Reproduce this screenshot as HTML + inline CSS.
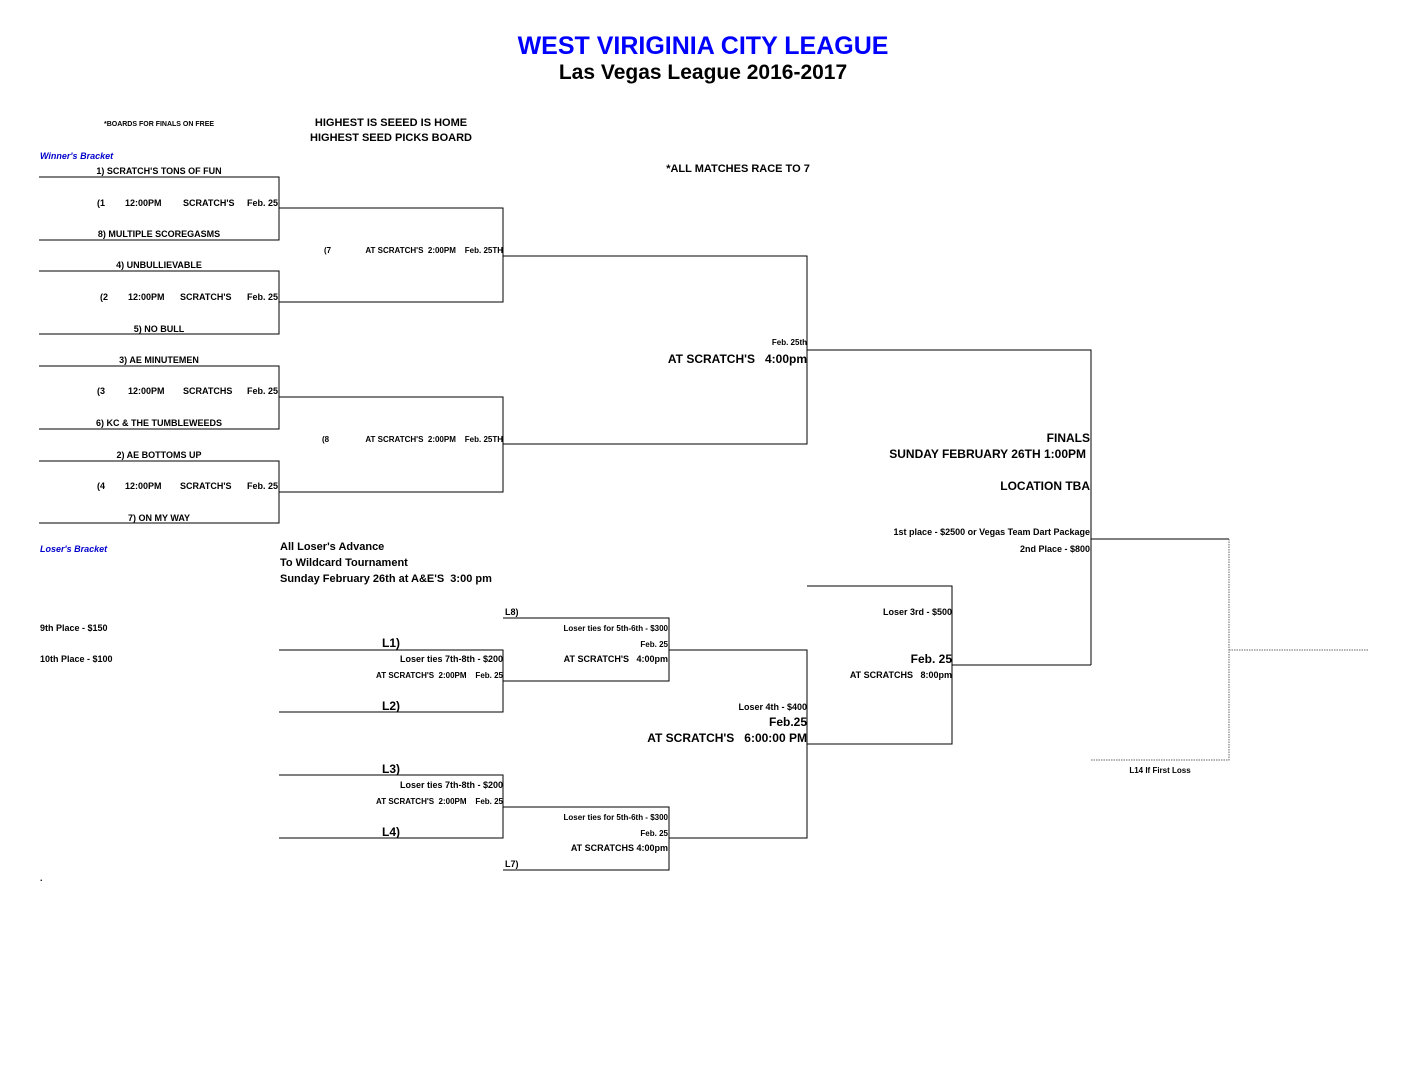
<!DOCTYPE html>
<html><head><meta charset="utf-8">
<style>
html,body{margin:0;padding:0;background:#fff;}
body{width:1408px;height:1088px;position:relative;overflow:hidden;font-family:"Liberation Sans",Arial,sans-serif;font-weight:bold;color:#000;}
.t{position:absolute;white-space:pre;line-height:1;}
.c{transform:translateX(-50%);}
svg{position:absolute;left:0;top:0;}
#w{position:absolute;left:0;top:1px;width:1408px;height:1088px;}
</style></head><body>
<svg width="1408" height="1088">
<g stroke="#000" stroke-width="1.2" fill="none" shape-rendering="crispEdges">
<path d="M39 177H279V240H39M39 271H279V334H39M39 366H279V429H39M39 461H279V523H39"/>
<path d="M279 208H503V302H279M279 397H503V492H279"/>
<path d="M503 256H807V444H503M807 350H1091V665M1091 539H1229"/>
<path d="M279 650H503V712H279M279 775H503V838H279"/>
<path d="M503 618H669V681H503M503 807H669V870H503"/>
<path d="M669 650H807V838H669M807 586H952V744H807M952 665H1091"/>
</g>
<g stroke="#666" stroke-width="1" stroke-dasharray="1.5,1" fill="none" shape-rendering="crispEdges">
<path d="M1229 539V760H1091M1229 650H1368"/>
</g>
</svg>
<div id="w">
<div class="t c" style="left:703px;top:33px;font-size:25px;color:#0000ff;">WEST VIRIGINIA CITY LEAGUE</div>
<div class="t c" style="left:703px;top:61px;font-size:21px;">Las Vegas League 2016-2017</div>
<div class="t c" style="left:159px;top:120px;font-size:7px;">*BOARDS FOR FINALS ON FREE</div>
<div class="t c" style="left:391px;top:117px;font-size:11px;">HIGHEST IS SEEED IS HOME</div>
<div class="t c" style="left:391px;top:132px;font-size:11px;">HIGHEST SEED PICKS BOARD</div>
<div class="t" style="left:40px;top:151px;font-size:9px;color:#0000cc;font-style:italic;">Winner's Bracket</div>
<div class="t c" style="left:738px;top:163px;font-size:11px;">*ALL MATCHES RACE TO 7</div>

<div class="t c" style="left:159px;top:166px;font-size:9px;">1) SCRATCH'S TONS OF FUN</div>
<div class="t c" style="left:159px;top:229px;font-size:9px;">8) MULTIPLE SCOREGASMS</div>
<div class="t c" style="left:159px;top:260px;font-size:9px;">4) UNBULLIEVABLE</div>
<div class="t c" style="left:159px;top:324px;font-size:9px;">5) NO BULL</div>
<div class="t c" style="left:159px;top:355px;font-size:9px;">3) AE MINUTEMEN</div>
<div class="t c" style="left:159px;top:418px;font-size:9px;">6) KC &amp; THE TUMBLEWEEDS</div>
<div class="t c" style="left:159px;top:450px;font-size:9px;">2) AE BOTTOMS UP</div>
<div class="t c" style="left:159px;top:513px;font-size:9px;">7) ON MY WAY</div>

<div class="t" style="left:97px;top:198px;font-size:9px;">(1</div>
<div class="t" style="left:125px;top:198px;font-size:9px;">12:00PM</div>
<div class="t" style="left:183px;top:198px;font-size:9px;">SCRATCH'S</div>
<div class="t" style="right:1130px;top:198px;font-size:9px;">Feb. 25</div>
<div class="t" style="left:100px;top:292px;font-size:9px;">(2</div>
<div class="t" style="left:128px;top:292px;font-size:9px;">12:00PM</div>
<div class="t" style="left:180px;top:292px;font-size:9px;">SCRATCH'S</div>
<div class="t" style="right:1130px;top:292px;font-size:9px;">Feb. 25</div>
<div class="t" style="left:97px;top:386px;font-size:9px;">(3</div>
<div class="t" style="left:128px;top:386px;font-size:9px;">12:00PM</div>
<div class="t" style="left:183px;top:386px;font-size:9px;">SCRATCHS</div>
<div class="t" style="right:1130px;top:386px;font-size:9px;">Feb. 25</div>
<div class="t" style="left:97px;top:481px;font-size:9px;">(4</div>
<div class="t" style="left:125px;top:481px;font-size:9px;">12:00PM</div>
<div class="t" style="left:180px;top:481px;font-size:9px;">SCRATCH'S</div>
<div class="t" style="right:1130px;top:481px;font-size:9px;">Feb. 25</div>

<div class="t" style="left:324px;top:246px;font-size:8px;">(7</div>
<div class="t" style="right:905px;top:246px;font-size:8px;">AT SCRATCH'S  2:00PM    Feb. 25TH</div>
<div class="t" style="left:322px;top:435px;font-size:8px;">(8</div>
<div class="t" style="right:905px;top:435px;font-size:8px;">AT SCRATCH'S  2:00PM    Feb. 25TH</div>

<div class="t" style="right:601px;top:338px;font-size:8px;">Feb. 25th</div>
<div class="t" style="right:601px;top:352px;font-size:12px;">AT SCRATCH'S   4:00pm</div>

<div class="t" style="right:318px;top:431px;font-size:12px;">FINALS</div>
<div class="t" style="right:322px;top:447px;font-size:12px;">SUNDAY FEBRUARY 26TH 1:00PM</div>
<div class="t" style="right:318px;top:479px;font-size:12px;">LOCATION TBA</div>
<div class="t" style="right:318px;top:527px;font-size:9px;">1st place - $2500 or Vegas Team Dart Package</div>
<div class="t" style="right:318px;top:544px;font-size:9px;">2nd Place - $800</div>

<div class="t" style="left:40px;top:544px;font-size:9px;color:#0000cc;font-style:italic;">Loser's Bracket</div>
<div class="t" style="left:280px;top:541px;font-size:11px;">All Loser's Advance</div>
<div class="t" style="left:280px;top:557px;font-size:11px;">To Wildcard Tournament</div>
<div class="t" style="left:280px;top:573px;font-size:11px;">Sunday February 26th at A&amp;E'S  3:00 pm</div>

<div class="t" style="left:40px;top:623px;font-size:9px;">9th Place - $150</div>
<div class="t" style="left:40px;top:654px;font-size:9px;">10th Place - $100</div>

<div class="t" style="left:505px;top:607px;font-size:9px;">L8)</div>
<div class="t c" style="left:391px;top:636px;font-size:12px;">L1)</div>
<div class="t" style="right:905px;top:654px;font-size:9px;">Loser ties 7th-8th - $200</div>
<div class="t" style="right:905px;top:671px;font-size:8px;">AT SCRATCH'S  2:00PM    Feb. 25</div>
<div class="t c" style="left:391px;top:699px;font-size:12px;">L2)</div>
<div class="t c" style="left:391px;top:762px;font-size:12px;">L3)</div>
<div class="t" style="right:905px;top:780px;font-size:9px;">Loser ties 7th-8th - $200</div>
<div class="t" style="right:905px;top:797px;font-size:8px;">AT SCRATCH'S  2:00PM    Feb. 25</div>
<div class="t c" style="left:391px;top:825px;font-size:12px;">L4)</div>
<div class="t" style="left:505px;top:859px;font-size:9px;">L7)</div>

<div class="t" style="right:740px;top:624px;font-size:8px;">Loser ties for 5th-6th - $300</div>
<div class="t" style="right:740px;top:640px;font-size:8px;">Feb. 25</div>
<div class="t" style="right:740px;top:654px;font-size:9px;">AT SCRATCH'S   4:00pm</div>
<div class="t" style="right:740px;top:813px;font-size:8px;">Loser ties for 5th-6th - $300</div>
<div class="t" style="right:740px;top:829px;font-size:8px;">Feb. 25</div>
<div class="t" style="right:740px;top:843px;font-size:9px;">AT SCRATCHS 4:00pm</div>

<div class="t" style="right:601px;top:702px;font-size:9px;">Loser 4th - $400</div>
<div class="t" style="right:601px;top:715px;font-size:12px;">Feb.25</div>
<div class="t" style="right:601px;top:731px;font-size:12px;">AT SCRATCH'S   6:00:00 PM</div>

<div class="t" style="right:456px;top:607px;font-size:9px;">Loser 3rd - $500</div>
<div class="t" style="right:456px;top:652px;font-size:12px;">Feb. 25</div>
<div class="t" style="right:456px;top:670px;font-size:9px;">AT SCRATCHS   8:00pm</div>

<div class="t c" style="left:1160px;top:766px;font-size:8px;">L14 If First Loss</div>
<div class="t" style="left:40px;top:873px;font-size:9px;">.</div>
</div>
</body></html>
